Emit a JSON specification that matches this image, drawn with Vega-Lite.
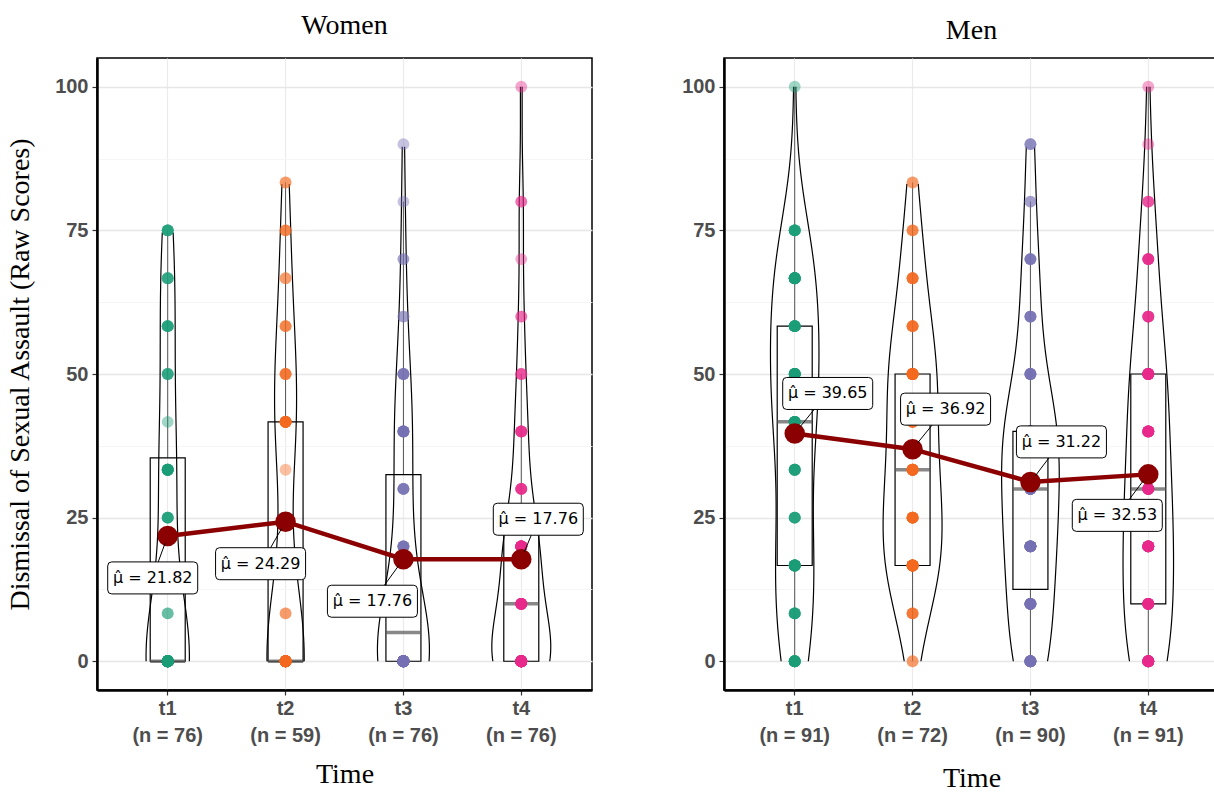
{
"$schema": "https://vega.github.io/schema/vega-lite/v6.json",
"background": "white",
"padding": {"left": 5, "top": 11, "right": 0, "bottom": 0},
"spacing": 87,
"config": {"view": {"stroke": "black", "strokeWidth": 1.5}},
"datasets": {
"women": [
{"t":"t1","s":0},{"t":"t1","s":0},{"t":"t1","s":0},{"t":"t1","s":0},{"t":"t1","s":0},{"t":"t1","s":0},{"t":"t1","s":0},{"t":"t1","s":0},{"t":"t1","s":0},{"t":"t1","s":0},
{"t":"t1","s":0},{"t":"t1","s":0},{"t":"t1","s":0},{"t":"t1","s":0},{"t":"t1","s":0},{"t":"t1","s":0},{"t":"t1","s":0},{"t":"t1","s":0},{"t":"t1","s":0},{"t":"t1","s":0},
{"t":"t1","s":0},{"t":"t1","s":0},{"t":"t1","s":0},{"t":"t1","s":0},{"t":"t1","s":0},{"t":"t1","s":0},{"t":"t1","s":0},{"t":"t1","s":0},{"t":"t1","s":0},{"t":"t1","s":0},
{"t":"t1","s":0},{"t":"t1","s":0},{"t":"t1","s":0},{"t":"t1","s":0},{"t":"t1","s":0},{"t":"t1","s":0},{"t":"t1","s":0},{"t":"t1","s":0},{"t":"t1","s":0},{"t":"t1","s":0},
{"t":"t1","s":8.33},{"t":"t1","s":8.33},
{"t":"t1","s":25},{"t":"t1","s":25},{"t":"t1","s":25},{"t":"t1","s":25},{"t":"t1","s":25},
{"t":"t1","s":33.33},{"t":"t1","s":33.33},{"t":"t1","s":33.33},{"t":"t1","s":33.33},{"t":"t1","s":33.33},{"t":"t1","s":33.33},{"t":"t1","s":33.33},{"t":"t1","s":33.33},{"t":"t1","s":33.33},{"t":"t1","s":33.33},
{"t":"t1","s":41.67},
{"t":"t1","s":50},{"t":"t1","s":50},{"t":"t1","s":50},{"t":"t1","s":50},
{"t":"t1","s":58.33},{"t":"t1","s":58.33},{"t":"t1","s":58.33},{"t":"t1","s":58.33},{"t":"t1","s":58.33},
{"t":"t1","s":66.67},{"t":"t1","s":66.67},{"t":"t1","s":66.67},{"t":"t1","s":66.67},
{"t":"t1","s":75},{"t":"t1","s":75},{"t":"t1","s":75},{"t":"t1","s":75},{"t":"t1","s":75},
{"t":"t2","s":0},{"t":"t2","s":0},{"t":"t2","s":0},{"t":"t2","s":0},{"t":"t2","s":0},{"t":"t2","s":0},{"t":"t2","s":0},{"t":"t2","s":0},{"t":"t2","s":0},{"t":"t2","s":0},
{"t":"t2","s":0},{"t":"t2","s":0},{"t":"t2","s":0},{"t":"t2","s":0},{"t":"t2","s":0},{"t":"t2","s":0},{"t":"t2","s":0},{"t":"t2","s":0},{"t":"t2","s":0},{"t":"t2","s":0},
{"t":"t2","s":0},{"t":"t2","s":0},{"t":"t2","s":0},{"t":"t2","s":0},{"t":"t2","s":0},{"t":"t2","s":0},{"t":"t2","s":0},{"t":"t2","s":0},{"t":"t2","s":0},{"t":"t2","s":0},
{"t":"t2","s":8.33},{"t":"t2","s":8.33},
{"t":"t2","s":33.33},
{"t":"t2","s":41.67},{"t":"t2","s":41.67},{"t":"t2","s":41.67},{"t":"t2","s":41.67},{"t":"t2","s":41.67},{"t":"t2","s":41.67},{"t":"t2","s":41.67},{"t":"t2","s":41.67},{"t":"t2","s":41.67},{"t":"t2","s":41.67},{"t":"t2","s":41.67},{"t":"t2","s":41.67},
{"t":"t2","s":50},{"t":"t2","s":50},{"t":"t2","s":50},{"t":"t2","s":50},
{"t":"t2","s":58.33},{"t":"t2","s":58.33},{"t":"t2","s":58.33},
{"t":"t2","s":66.67},{"t":"t2","s":66.67},
{"t":"t2","s":75},{"t":"t2","s":75},{"t":"t2","s":75},
{"t":"t2","s":83.33},{"t":"t2","s":83.33},
{"t":"t3","s":0},{"t":"t3","s":0},{"t":"t3","s":0},{"t":"t3","s":0},{"t":"t3","s":0},{"t":"t3","s":0},{"t":"t3","s":0},{"t":"t3","s":0},{"t":"t3","s":0},{"t":"t3","s":0},
{"t":"t3","s":0},{"t":"t3","s":0},{"t":"t3","s":0},{"t":"t3","s":0},{"t":"t3","s":0},{"t":"t3","s":0},{"t":"t3","s":0},{"t":"t3","s":0},{"t":"t3","s":0},{"t":"t3","s":0},
{"t":"t3","s":0},{"t":"t3","s":0},{"t":"t3","s":0},{"t":"t3","s":0},{"t":"t3","s":0},{"t":"t3","s":0},{"t":"t3","s":0},{"t":"t3","s":0},{"t":"t3","s":0},{"t":"t3","s":0},
{"t":"t3","s":0},{"t":"t3","s":0},{"t":"t3","s":0},{"t":"t3","s":0},{"t":"t3","s":0},{"t":"t3","s":0},{"t":"t3","s":0},{"t":"t3","s":0},
{"t":"t3","s":10},{"t":"t3","s":10},{"t":"t3","s":10},{"t":"t3","s":10},{"t":"t3","s":10},{"t":"t3","s":10},{"t":"t3","s":10},{"t":"t3","s":10},
{"t":"t3","s":20},{"t":"t3","s":20},{"t":"t3","s":20},{"t":"t3","s":20},{"t":"t3","s":20},{"t":"t3","s":20},
{"t":"t3","s":30},{"t":"t3","s":30},{"t":"t3","s":30},{"t":"t3","s":30},{"t":"t3","s":30},
{"t":"t3","s":40},{"t":"t3","s":40},{"t":"t3","s":40},{"t":"t3","s":40},{"t":"t3","s":40},{"t":"t3","s":40},{"t":"t3","s":40},{"t":"t3","s":40},
{"t":"t3","s":50},{"t":"t3","s":50},{"t":"t3","s":50},{"t":"t3","s":50},{"t":"t3","s":50},
{"t":"t3","s":60},{"t":"t3","s":60},
{"t":"t3","s":70},{"t":"t3","s":70},
{"t":"t3","s":80},
{"t":"t3","s":90},
{"t":"t4","s":0},{"t":"t4","s":0},{"t":"t4","s":0},{"t":"t4","s":0},{"t":"t4","s":0},{"t":"t4","s":0},{"t":"t4","s":0},{"t":"t4","s":0},{"t":"t4","s":0},{"t":"t4","s":0},
{"t":"t4","s":0},{"t":"t4","s":0},{"t":"t4","s":0},{"t":"t4","s":0},{"t":"t4","s":0},{"t":"t4","s":0},{"t":"t4","s":0},{"t":"t4","s":0},{"t":"t4","s":0},{"t":"t4","s":0},
{"t":"t4","s":0},{"t":"t4","s":0},{"t":"t4","s":0},{"t":"t4","s":0},{"t":"t4","s":0},{"t":"t4","s":0},{"t":"t4","s":0},{"t":"t4","s":0},{"t":"t4","s":0},{"t":"t4","s":0},
{"t":"t4","s":10},{"t":"t4","s":10},{"t":"t4","s":10},{"t":"t4","s":10},{"t":"t4","s":10},{"t":"t4","s":10},{"t":"t4","s":10},{"t":"t4","s":10},{"t":"t4","s":10},{"t":"t4","s":10},{"t":"t4","s":10},{"t":"t4","s":10},
{"t":"t4","s":20},{"t":"t4","s":20},{"t":"t4","s":20},{"t":"t4","s":20},{"t":"t4","s":20},{"t":"t4","s":20},{"t":"t4","s":20},{"t":"t4","s":20},{"t":"t4","s":20},{"t":"t4","s":20},{"t":"t4","s":20},{"t":"t4","s":20},{"t":"t4","s":20},{"t":"t4","s":20},{"t":"t4","s":20},
{"t":"t4","s":30},{"t":"t4","s":30},{"t":"t4","s":30},{"t":"t4","s":30},{"t":"t4","s":30},
{"t":"t4","s":40},{"t":"t4","s":40},{"t":"t4","s":40},{"t":"t4","s":40},{"t":"t4","s":40},
{"t":"t4","s":50},{"t":"t4","s":50},{"t":"t4","s":50},
{"t":"t4","s":60},{"t":"t4","s":60},
{"t":"t4","s":70},
{"t":"t4","s":80},{"t":"t4","s":80},
{"t":"t4","s":100}
],
"men": [
{"t":"t1","s":0},{"t":"t1","s":0},{"t":"t1","s":0},{"t":"t1","s":0},{"t":"t1","s":0},{"t":"t1","s":0},{"t":"t1","s":0},{"t":"t1","s":0},{"t":"t1","s":0},{"t":"t1","s":0},
{"t":"t1","s":8.33},{"t":"t1","s":8.33},{"t":"t1","s":8.33},{"t":"t1","s":8.33},{"t":"t1","s":8.33},{"t":"t1","s":8.33},
{"t":"t1","s":16.67},{"t":"t1","s":16.67},{"t":"t1","s":16.67},{"t":"t1","s":16.67},{"t":"t1","s":16.67},{"t":"t1","s":16.67},{"t":"t1","s":16.67},{"t":"t1","s":16.67},{"t":"t1","s":16.67},{"t":"t1","s":16.67},{"t":"t1","s":16.67},{"t":"t1","s":16.67},
{"t":"t1","s":25},{"t":"t1","s":25},{"t":"t1","s":25},{"t":"t1","s":25},{"t":"t1","s":25},
{"t":"t1","s":33.33},{"t":"t1","s":33.33},{"t":"t1","s":33.33},{"t":"t1","s":33.33},{"t":"t1","s":33.33},{"t":"t1","s":33.33},{"t":"t1","s":33.33},
{"t":"t1","s":41.67},{"t":"t1","s":41.67},{"t":"t1","s":41.67},{"t":"t1","s":41.67},{"t":"t1","s":41.67},{"t":"t1","s":41.67},{"t":"t1","s":41.67},{"t":"t1","s":41.67},{"t":"t1","s":41.67},{"t":"t1","s":41.67},
{"t":"t1","s":50},{"t":"t1","s":50},{"t":"t1","s":50},{"t":"t1","s":50},{"t":"t1","s":50},{"t":"t1","s":50},{"t":"t1","s":50},{"t":"t1","s":50},{"t":"t1","s":50},{"t":"t1","s":50},{"t":"t1","s":50},{"t":"t1","s":50},
{"t":"t1","s":58.33},{"t":"t1","s":58.33},{"t":"t1","s":58.33},{"t":"t1","s":58.33},{"t":"t1","s":58.33},{"t":"t1","s":58.33},{"t":"t1","s":58.33},{"t":"t1","s":58.33},{"t":"t1","s":58.33},
{"t":"t1","s":66.67},{"t":"t1","s":66.67},{"t":"t1","s":66.67},{"t":"t1","s":66.67},{"t":"t1","s":66.67},{"t":"t1","s":66.67},{"t":"t1","s":66.67},{"t":"t1","s":66.67},{"t":"t1","s":66.67},{"t":"t1","s":66.67},{"t":"t1","s":66.67},{"t":"t1","s":66.67},
{"t":"t1","s":75},{"t":"t1","s":75},{"t":"t1","s":75},{"t":"t1","s":75},{"t":"t1","s":75},{"t":"t1","s":75},{"t":"t1","s":75},
{"t":"t1","s":100},
{"t":"t2","s":0},{"t":"t2","s":0},
{"t":"t2","s":8.33},{"t":"t2","s":8.33},{"t":"t2","s":8.33},{"t":"t2","s":8.33},
{"t":"t2","s":16.67},{"t":"t2","s":16.67},{"t":"t2","s":16.67},{"t":"t2","s":16.67},{"t":"t2","s":16.67},{"t":"t2","s":16.67},{"t":"t2","s":16.67},{"t":"t2","s":16.67},{"t":"t2","s":16.67},{"t":"t2","s":16.67},{"t":"t2","s":16.67},{"t":"t2","s":16.67},{"t":"t2","s":16.67},{"t":"t2","s":16.67},
{"t":"t2","s":25},{"t":"t2","s":25},{"t":"t2","s":25},{"t":"t2","s":25},{"t":"t2","s":25},{"t":"t2","s":25},{"t":"t2","s":25},{"t":"t2","s":25},{"t":"t2","s":25},
{"t":"t2","s":33.33},{"t":"t2","s":33.33},{"t":"t2","s":33.33},{"t":"t2","s":33.33},{"t":"t2","s":33.33},{"t":"t2","s":33.33},{"t":"t2","s":33.33},{"t":"t2","s":33.33},{"t":"t2","s":33.33},{"t":"t2","s":33.33},
{"t":"t2","s":41.67},{"t":"t2","s":41.67},{"t":"t2","s":41.67},{"t":"t2","s":41.67},{"t":"t2","s":41.67},{"t":"t2","s":41.67},
{"t":"t2","s":50},{"t":"t2","s":50},{"t":"t2","s":50},{"t":"t2","s":50},{"t":"t2","s":50},{"t":"t2","s":50},{"t":"t2","s":50},{"t":"t2","s":50},{"t":"t2","s":50},{"t":"t2","s":50},{"t":"t2","s":50},{"t":"t2","s":50},
{"t":"t2","s":58.33},{"t":"t2","s":58.33},{"t":"t2","s":58.33},{"t":"t2","s":58.33},{"t":"t2","s":58.33},
{"t":"t2","s":66.67},{"t":"t2","s":66.67},{"t":"t2","s":66.67},{"t":"t2","s":66.67},{"t":"t2","s":66.67},
{"t":"t2","s":75},{"t":"t2","s":75},{"t":"t2","s":75},
{"t":"t2","s":83.33},{"t":"t2","s":83.33},
{"t":"t3","s":0},{"t":"t3","s":0},{"t":"t3","s":0},{"t":"t3","s":0},{"t":"t3","s":0},{"t":"t3","s":0},{"t":"t3","s":0},{"t":"t3","s":0},{"t":"t3","s":0},{"t":"t3","s":0},{"t":"t3","s":0},{"t":"t3","s":0},
{"t":"t3","s":10},{"t":"t3","s":10},{"t":"t3","s":10},{"t":"t3","s":10},{"t":"t3","s":10},{"t":"t3","s":10},{"t":"t3","s":10},{"t":"t3","s":10},{"t":"t3","s":10},{"t":"t3","s":10},{"t":"t3","s":10},
{"t":"t3","s":20},{"t":"t3","s":20},{"t":"t3","s":20},{"t":"t3","s":20},{"t":"t3","s":20},{"t":"t3","s":20},{"t":"t3","s":20},{"t":"t3","s":20},{"t":"t3","s":20},{"t":"t3","s":20},{"t":"t3","s":20},{"t":"t3","s":20},{"t":"t3","s":20},{"t":"t3","s":20},
{"t":"t3","s":30},{"t":"t3","s":30},{"t":"t3","s":30},{"t":"t3","s":30},{"t":"t3","s":30},{"t":"t3","s":30},{"t":"t3","s":30},{"t":"t3","s":30},{"t":"t3","s":30},{"t":"t3","s":30},{"t":"t3","s":30},{"t":"t3","s":30},{"t":"t3","s":30},{"t":"t3","s":30},
{"t":"t3","s":40},{"t":"t3","s":40},{"t":"t3","s":40},{"t":"t3","s":40},{"t":"t3","s":40},{"t":"t3","s":40},{"t":"t3","s":40},{"t":"t3","s":40},{"t":"t3","s":40},{"t":"t3","s":40},{"t":"t3","s":40},{"t":"t3","s":40},{"t":"t3","s":40},{"t":"t3","s":40},{"t":"t3","s":40},{"t":"t3","s":40},{"t":"t3","s":40},
{"t":"t3","s":50},{"t":"t3","s":50},{"t":"t3","s":50},{"t":"t3","s":50},{"t":"t3","s":50},{"t":"t3","s":50},{"t":"t3","s":50},
{"t":"t3","s":60},{"t":"t3","s":60},{"t":"t3","s":60},{"t":"t3","s":60},{"t":"t3","s":60},
{"t":"t3","s":70},{"t":"t3","s":70},{"t":"t3","s":70},{"t":"t3","s":70},{"t":"t3","s":70},
{"t":"t3","s":80},{"t":"t3","s":80},
{"t":"t3","s":90},{"t":"t3","s":90},{"t":"t3","s":90},
{"t":"t4","s":0},{"t":"t4","s":0},{"t":"t4","s":0},{"t":"t4","s":0},{"t":"t4","s":0},{"t":"t4","s":0},{"t":"t4","s":0},{"t":"t4","s":0},{"t":"t4","s":0},{"t":"t4","s":0},{"t":"t4","s":0},{"t":"t4","s":0},{"t":"t4","s":0},{"t":"t4","s":0},{"t":"t4","s":0},
{"t":"t4","s":10},{"t":"t4","s":10},{"t":"t4","s":10},{"t":"t4","s":10},{"t":"t4","s":10},{"t":"t4","s":10},{"t":"t4","s":10},{"t":"t4","s":10},{"t":"t4","s":10},{"t":"t4","s":10},{"t":"t4","s":10},{"t":"t4","s":10},
{"t":"t4","s":20},{"t":"t4","s":20},{"t":"t4","s":20},{"t":"t4","s":20},{"t":"t4","s":20},{"t":"t4","s":20},{"t":"t4","s":20},{"t":"t4","s":20},{"t":"t4","s":20},{"t":"t4","s":20},{"t":"t4","s":20},{"t":"t4","s":20},{"t":"t4","s":20},{"t":"t4","s":20},
{"t":"t4","s":30},{"t":"t4","s":30},{"t":"t4","s":30},{"t":"t4","s":30},{"t":"t4","s":30},{"t":"t4","s":30},{"t":"t4","s":30},{"t":"t4","s":30},{"t":"t4","s":30},{"t":"t4","s":30},{"t":"t4","s":30},{"t":"t4","s":30},
{"t":"t4","s":40},{"t":"t4","s":40},{"t":"t4","s":40},{"t":"t4","s":40},{"t":"t4","s":40},{"t":"t4","s":40},{"t":"t4","s":40},{"t":"t4","s":40},{"t":"t4","s":40},{"t":"t4","s":40},
{"t":"t4","s":50},{"t":"t4","s":50},{"t":"t4","s":50},{"t":"t4","s":50},{"t":"t4","s":50},{"t":"t4","s":50},{"t":"t4","s":50},{"t":"t4","s":50},{"t":"t4","s":50},{"t":"t4","s":50},{"t":"t4","s":50},{"t":"t4","s":50},
{"t":"t4","s":60},{"t":"t4","s":60},{"t":"t4","s":60},{"t":"t4","s":60},{"t":"t4","s":60},
{"t":"t4","s":70},{"t":"t4","s":70},{"t":"t4","s":70},{"t":"t4","s":70},{"t":"t4","s":70},{"t":"t4","s":70},
{"t":"t4","s":80},{"t":"t4","s":80},{"t":"t4","s":80},
{"t":"t4","s":90},
{"t":"t4","s":100}
],
"wmeans": [
{"t":"t1","s":21.82,"lab":"μ̂ = 21.82"},
{"t":"t2","s":24.29,"lab":"μ̂ = 24.29"},
{"t":"t3","s":17.76,"lab":"μ̂ = 17.76"},
{"t":"t4","s":17.76,"lab":"μ̂ = 17.76"}
],
"mmeans": [
{"t":"t1","s":39.65,"lab":"μ̂ = 39.65"},
{"t":"t2","s":36.92,"lab":"μ̂ = 36.92"},
{"t":"t3","s":31.22,"lab":"μ̂ = 31.22"},
{"t":"t4","s":32.53,"lab":"μ̂ = 32.53"}
]
},
"hconcat": [
{
"width": 495, "height": 632,
"title": {"text": "Women", "font": "Liberation Serif", "fontSize": 28, "fontWeight": "normal", "color": "black", "offset": 18},
"encoding": {
"x": {"field": "t", "type": "nominal", "title": "Time",
 "scale": {"type": "band", "paddingInner": 0, "paddingOuter": 0.1},
 "axis": {"bandPosition": 0.5, "grid": true, "gridColor": "#EBEBEB", "gridWidth": 1.2, "domainColor": "black", "domainWidth": 2.5, "tickColor": "#333333", "tickSize": 5, "tickWidth": 1.2, "labelFont": "Liberation Sans", "labelFontWeight": "bold", "labelFontSize": 20, "labelColor": "#4D4D4D", "labelPadding": 3, "labelLineHeight": 27, "labelAngle": 0,
  "labelExpr": "datum.label == 't1' ? ['t1','(n = 76)'] : datum.label == 't2' ? ['t2','(n = 59)'] : datum.label == 't3' ? ['t3','(n = 76)'] : ['t4','(n = 76)']",
  "titleFont": "Liberation Serif", "titleFontSize": 28, "titleFontWeight": "normal", "titleColor": "black", "titlePadding": 15}},
"y": {"field": "s", "type": "quantitative", "title": "Dismissal of Sexual Assault (Raw Scores)",
 "scale": {"domain": [-5, 105], "nice": false, "zero": false},
 "axis": {"values": [0, 12.5, 25, 37.5, 50, 62.5, 75, 87.5, 100], "labelExpr": "datum.value % 25 === 0 ? datum.label : ''",
  "grid": true, "gridColor": {"condition": {"test": "datum.value % 25 !== 0", "value": "#F4F4F4"}, "value": "#E6E6E6"},
  "gridWidth": {"condition": {"test": "datum.value % 25 !== 0", "value": 0.8}, "value": 1.3},
  "tickOpacity": {"condition": {"test": "datum.value % 25 !== 0", "value": 0}, "value": 1},
  "domainColor": "black", "domainWidth": 2.5, "tickColor": "#333333", "tickSize": 5, "tickWidth": 1.2,
  "labelFont": "Liberation Sans", "labelFontWeight": "bold", "labelFontSize": 20, "labelColor": "#4D4D4D", "labelPadding": 4,
  "titleFont": "Liberation Serif", "titleFontSize": 28, "titleFontWeight": "normal", "titleColor": "black", "titlePadding": 20}}
},
"layer": [
{"data": {"name": "women"},
 "transform": [
  {"joinaggregate": [{"op": "max", "field": "s", "as": "mx"}], "groupby": ["t"]},
  {"density": "s", "groupby": ["t", "mx"], "extent": [0, 100], "steps": 201, "as": ["s", "density"]},
  {"filter": "datum.s <= datum.mx + 0.01"}],
 "mark": {"type": "line", "color": "black", "strokeWidth": 1.2},
 "encoding": {"xOffset": {"field": "density", "type": "quantitative", "scale": {"zero": true, "nice": false, "range": [58.93, 88.4]}},
  "detail": {"field": "t"}, "order": {"field": "s", "type": "quantitative"}}},
{"data": {"name": "women"},
 "transform": [
  {"joinaggregate": [{"op": "max", "field": "s", "as": "mx"}], "groupby": ["t"]},
  {"density": "s", "groupby": ["t", "mx"], "extent": [0, 100], "steps": 201, "as": ["s", "density"]},
  {"filter": "datum.s <= datum.mx + 0.01"}],
 "mark": {"type": "line", "color": "black", "strokeWidth": 1.2},
 "encoding": {"xOffset": {"field": "density", "type": "quantitative", "scale": {"zero": true, "nice": false, "range": [58.93, 29.46]}},
  "detail": {"field": "t"}, "order": {"field": "s", "type": "quantitative"}}},
{"data": {"name": "women"},
 "mark": {"type": "boxplot", "extent": 1.5, "size": 35, "outliers": false, "ticks": false, "color": "black",
  "box": {"fill": "white", "fillOpacity": 0, "stroke": "black", "strokeWidth": 1.2},
  "median": {"color": "#555555", "thickness": 3.5},
  "rule": {"color": "#555555", "strokeWidth": 1}}},
{"data": {"name": "women"},
 "mark": {"type": "circle", "size": 140, "opacity": 0.42},
 "encoding": {"color": {"field": "t", "type": "nominal", "legend": null, "scale": {"domain": ["t1", "t2", "t3", "t4"], "range": ["#1B9E77", "#F36A1E", "#7570B3", "#E7298A"]}}}},
{"data": {"name": "wmeans"}, "mark": {"type": "line", "color": "#8B0000", "strokeWidth": 4.5}},
{"data": {"name": "wmeans"}, "mark": {"type": "circle", "color": "#8B0000", "size": 420, "opacity": 1}},
{"data": {"name": "wmeans"}, "transform": [{"filter": "datum.t == 't1'"}],
 "mark": {"type": "point", "shape": "M-56,26L26,26Q30,26 30,30L30,54Q30,58 26,58L-56,58Q-60,58 -60,54L-60,30Q-60,26 -56,26ZM-2.7,7.5L-9.5,26", "size": 4, "filled": true, "fill": "white", "stroke": "black", "strokeWidth": 1, "opacity": 1}},
{"data": {"name": "wmeans"}, "transform": [{"filter": "datum.t == 't2'"}],
 "mark": {"type": "point", "shape": "M-66,26L16,26Q20,26 20,30L20,54Q20,58 16,58L-66,58Q-70,58 -70,54L-70,30Q-70,26 -66,26ZM-4,6.9L-15,26", "size": 4, "filled": true, "fill": "white", "stroke": "black", "strokeWidth": 1, "opacity": 1}},
{"data": {"name": "wmeans"}, "transform": [{"filter": "datum.t == 't3'"}],
 "mark": {"type": "point", "shape": "M-72,26L10,26Q14,26 14,30L14,54Q14,58 10,58L-72,58Q-76,58 -76,54L-76,30Q-76,26 -72,26ZM-4.8,6.4L-19,26", "size": 4, "filled": true, "fill": "white", "stroke": "black", "strokeWidth": 1, "opacity": 1}},
{"data": {"name": "wmeans"}, "transform": [{"filter": "datum.t == 't4'"}],
 "mark": {"type": "point", "shape": "M-24,-56L58,-56Q62,-56 62,-52L62,-28Q62,-24 58,-24L-24,-24Q-28,-24 -28,-28L-28,-52Q-28,-56 -24,-56ZM3,-7.4L10,-24", "size": 4, "filled": true, "fill": "white", "stroke": "black", "strokeWidth": 1, "opacity": 1}},
{"data": {"name": "wmeans"}, "transform": [{"filter": "datum.t == 't1'"}],
 "mark": {"type": "text", "dx": -15, "dy": 42, "font": "DejaVu Sans", "fontSize": 16, "color": "black"}, "encoding": {"text": {"field": "lab"}}},
{"data": {"name": "wmeans"}, "transform": [{"filter": "datum.t == 't2'"}],
 "mark": {"type": "text", "dx": -25, "dy": 42, "font": "DejaVu Sans", "fontSize": 16, "color": "black"}, "encoding": {"text": {"field": "lab"}}},
{"data": {"name": "wmeans"}, "transform": [{"filter": "datum.t == 't3'"}],
 "mark": {"type": "text", "dx": -31, "dy": 42, "font": "DejaVu Sans", "fontSize": 16, "color": "black"}, "encoding": {"text": {"field": "lab"}}},
{"data": {"name": "wmeans"}, "transform": [{"filter": "datum.t == 't4'"}],
 "mark": {"type": "text", "dx": 17, "dy": -40, "font": "DejaVu Sans", "fontSize": 16, "color": "black"}, "encoding": {"text": {"field": "lab"}}}
],
"resolve": {"scale": {"xOffset": "independent"}}
},
{
"width": 495, "height": 632,
"title": {"text": "Men", "font": "Liberation Serif", "fontSize": 28, "fontWeight": "normal", "color": "black", "offset": 13},
"encoding": {
"x": {"field": "t", "type": "nominal", "title": "Time",
 "scale": {"type": "band", "paddingInner": 0, "paddingOuter": 0.1},
 "axis": {"bandPosition": 0.5, "grid": true, "gridColor": "#EBEBEB", "gridWidth": 1.2, "domainColor": "black", "domainWidth": 2.5, "tickColor": "#333333", "tickSize": 5, "tickWidth": 1.2, "labelFont": "Liberation Sans", "labelFontWeight": "bold", "labelFontSize": 20, "labelColor": "#4D4D4D", "labelPadding": 3, "labelLineHeight": 27, "labelAngle": 0,
  "labelExpr": "datum.label == 't1' ? ['t1','(n = 91)'] : datum.label == 't2' ? ['t2','(n = 72)'] : datum.label == 't3' ? ['t3','(n = 90)'] : ['t4','(n = 91)']",
  "titleFont": "Liberation Serif", "titleFontSize": 28, "titleFontWeight": "normal", "titleColor": "black", "titlePadding": 19}},
"y": {"field": "s", "type": "quantitative", "title": null,
 "scale": {"domain": [-5, 105], "nice": false, "zero": false},
 "axis": {"values": [0, 12.5, 25, 37.5, 50, 62.5, 75, 87.5, 100], "labelExpr": "datum.value % 25 === 0 ? datum.label : ''",
  "grid": true, "gridColor": {"condition": {"test": "datum.value % 25 !== 0", "value": "#F4F4F4"}, "value": "#E6E6E6"},
  "gridWidth": {"condition": {"test": "datum.value % 25 !== 0", "value": 0.8}, "value": 1.3},
  "tickOpacity": {"condition": {"test": "datum.value % 25 !== 0", "value": 0}, "value": 1},
  "domainColor": "black", "domainWidth": 2.5, "tickColor": "#333333", "tickSize": 5, "tickWidth": 1.2,
  "labelFont": "Liberation Sans", "labelFontWeight": "bold", "labelFontSize": 20, "labelColor": "#4D4D4D", "labelPadding": 4}}
},
"layer": [
{"data": {"name": "men"},
 "transform": [
  {"joinaggregate": [{"op": "max", "field": "s", "as": "mx"}], "groupby": ["t"]},
  {"density": "s", "groupby": ["t", "mx"], "extent": [0, 100], "steps": 201, "as": ["s", "density"]},
  {"filter": "datum.s <= datum.mx + 0.01"}],
 "mark": {"type": "line", "color": "black", "strokeWidth": 1.2},
 "encoding": {"xOffset": {"field": "density", "type": "quantitative", "scale": {"zero": true, "nice": false, "range": [58.93, 88.4]}},
  "detail": {"field": "t"}, "order": {"field": "s", "type": "quantitative"}}},
{"data": {"name": "men"},
 "transform": [
  {"joinaggregate": [{"op": "max", "field": "s", "as": "mx"}], "groupby": ["t"]},
  {"density": "s", "groupby": ["t", "mx"], "extent": [0, 100], "steps": 201, "as": ["s", "density"]},
  {"filter": "datum.s <= datum.mx + 0.01"}],
 "mark": {"type": "line", "color": "black", "strokeWidth": 1.2},
 "encoding": {"xOffset": {"field": "density", "type": "quantitative", "scale": {"zero": true, "nice": false, "range": [58.93, 29.46]}},
  "detail": {"field": "t"}, "order": {"field": "s", "type": "quantitative"}}},
{"data": {"name": "men"},
 "mark": {"type": "boxplot", "extent": 1.5, "size": 35, "outliers": false, "ticks": false, "color": "black",
  "box": {"fill": "white", "fillOpacity": 0, "stroke": "black", "strokeWidth": 1.2},
  "median": {"color": "#555555", "thickness": 3.5},
  "rule": {"color": "#555555", "strokeWidth": 1}}},
{"data": {"name": "men"},
 "mark": {"type": "circle", "size": 140, "opacity": 0.42},
 "encoding": {"color": {"field": "t", "type": "nominal", "legend": null, "scale": {"domain": ["t1", "t2", "t3", "t4"], "range": ["#1B9E77", "#F36A1E", "#7570B3", "#E7298A"]}}}},
{"data": {"name": "mmeans"}, "mark": {"type": "line", "color": "#8B0000", "strokeWidth": 4.5}},
{"data": {"name": "mmeans"}, "mark": {"type": "circle", "color": "#8B0000", "size": 420, "opacity": 1}},
{"data": {"name": "mmeans"}, "transform": [{"filter": "datum.t == 't1' || datum.t == 't2'"}],
 "mark": {"type": "point", "shape": "M-8,-56L74,-56Q78,-56 78,-52L78,-28Q78,-24 74,-24L-8,-24Q-12,-24 -12,-28L-12,-52Q-12,-56 -8,-56ZM5,-6.2L19.5,-24", "size": 4, "filled": true, "fill": "white", "stroke": "black", "strokeWidth": 1, "opacity": 1}},
{"data": {"name": "mmeans"}, "transform": [{"filter": "datum.t == 't3'"}],
 "mark": {"type": "point", "shape": "M-10,-56L72,-56Q76,-56 76,-52L76,-28Q76,-24 72,-24L-10,-24Q-14,-24 -14,-28L-14,-52Q-14,-56 -10,-56ZM5,-6.2L18.5,-24", "size": 4, "filled": true, "fill": "white", "stroke": "black", "strokeWidth": 1, "opacity": 1}},
{"data": {"name": "mmeans"}, "transform": [{"filter": "datum.t == 't4'"}],
 "mark": {"type": "point", "shape": "M-72,25L10,25Q14,25 14,29L14,53Q14,57 10,57L-72,57Q-76,57 -76,53L-76,29Q-76,25 -72,25ZM-4.9,6.3L-19,25", "size": 4, "filled": true, "fill": "white", "stroke": "black", "strokeWidth": 1, "opacity": 1}},
{"data": {"name": "mmeans"}, "transform": [{"filter": "datum.t == 't1' || datum.t == 't2'"}],
 "mark": {"type": "text", "dx": 33, "dy": -40, "font": "DejaVu Sans", "fontSize": 16, "color": "black"}, "encoding": {"text": {"field": "lab"}}},
{"data": {"name": "mmeans"}, "transform": [{"filter": "datum.t == 't3'"}],
 "mark": {"type": "text", "dx": 31, "dy": -40, "font": "DejaVu Sans", "fontSize": 16, "color": "black"}, "encoding": {"text": {"field": "lab"}}},
{"data": {"name": "mmeans"}, "transform": [{"filter": "datum.t == 't4'"}],
 "mark": {"type": "text", "dx": -31, "dy": 41, "font": "DejaVu Sans", "fontSize": 16, "color": "black"}, "encoding": {"text": {"field": "lab"}}}
],
"resolve": {"scale": {"xOffset": "independent"}}
}
]
}
